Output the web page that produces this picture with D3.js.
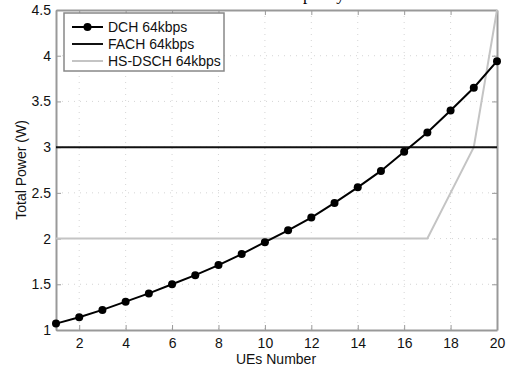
<!DOCTYPE html>
<html>
<head>
<meta charset="utf-8">
<script src="https://cdn.jsdelivr.net/npm/d3@7"></script>
<style>
  body { margin: 0; background: #fff; }
  svg { display: block; }
  text { font-family: "Liberation Sans", Arial, sans-serif; }
</style>
</head>
<body>
<svg id="svg" width="506" height="368"></svg>
<script>
// data
const ues = d3.range(1, 21);
const dch = [1.07, 1.14, 1.22, 1.31, 1.40, 1.50, 1.60, 1.71, 1.83, 1.96,
             2.09, 2.23, 2.39, 2.56, 2.74, 2.95, 3.16, 3.40, 3.65, 3.94];
const fach = ues.map(() => 3);
const hsdsch = [2, 2, 2, 2, 2, 2, 2, 2, 2, 2,
                2, 2, 2, 2, 2, 2, 2, 2.5, 3, 4.5];
const xTicks = [2, 4, 6, 8, 10, 12, 14, 16, 18, 20];
const yTicks = [1, 1.5, 2, 2.5, 3, 3.5, 4, 4.5];
const legendLabels = ['DCH 64kbps', 'FACH 64kbps', 'HS-DSCH 64kbps'];

const svg = d3.select('#svg');
const pLeft = 56, pRight = 497, pTop = 10, pBottom = 330;

const x = d3.scaleLinear().domain([1, 20]).range([pLeft, pRight]);
const y = d3.scaleLinear().domain([1, 4.5]).range([pBottom, pTop]);

// title, cut off by the top edge (only descenders show)
svg.append('text')
    .attr('x', 288)
    .attr('y', 0)
    .style('font-family', '"Liberation Serif", "Times New Roman", serif')
    .style('font-size', '17px')
    .text('capacity');

// dotted grid
const grid = svg.append('g')
    .attr('stroke', '#bbb')
    .attr('stroke-width', 1)
    .attr('stroke-dasharray', '1,5')
    .attr('opacity', 0.6);
grid.selectAll('.gx').data(xTicks.slice(0, -1)).enter().append('line')
    .attr('x1', d => x(d)).attr('x2', d => x(d))
    .attr('y1', pTop).attr('y2', pBottom);
grid.selectAll('.gy').data(yTicks.slice(1, -1)).enter().append('line')
    .attr('x1', pLeft).attr('x2', pRight)
    .attr('y1', d => y(d)).attr('y2', d => y(d));

// axes
const axisColor = '#999';
const xb = svg.append('g').attr('transform', `translate(0,${pBottom})`)
    .call(d3.axisBottom(x).tickValues(xTicks).tickSize(-5).tickPadding(8).tickSizeOuter(0));
const xt = svg.append('g').attr('transform', `translate(0,${pTop})`)
    .call(d3.axisTop(x).tickValues(xTicks).tickSize(-5).tickFormat('').tickSizeOuter(0));
const yl = svg.append('g').attr('transform', `translate(${pLeft},0)`)
    .call(d3.axisLeft(y).tickValues(yTicks).tickSize(-5).tickPadding(5)
        .tickFormat(d3.format('~g')).tickSizeOuter(0));
const yr = svg.append('g').attr('transform', `translate(${pRight},0)`)
    .call(d3.axisRight(y).tickValues(yTicks).tickSize(-5).tickFormat('').tickSizeOuter(0));
[xb, xt, yl, yr].forEach(g => {
    g.selectAll('path').attr('stroke', axisColor).attr('stroke-width', 2);
    g.selectAll('line').attr('stroke', axisColor);
    g.selectAll('text').style('font-size', '14px').attr('fill', '#111')
        .style('font-family', '"Liberation Sans", Arial, sans-serif');
});

// series
const line = d3.line().x((d, i) => x(ues[i])).y(d => y(d));

svg.append('path').datum(hsdsch)
    .attr('d', line).attr('fill', 'none')
    .attr('stroke', '#c4c4c4').attr('stroke-width', 2);

svg.append('path').datum(fach)
    .attr('d', line).attr('fill', 'none')
    .attr('stroke', '#111').attr('stroke-width', 2);

svg.append('path').datum(dch)
    .attr('d', line).attr('fill', 'none')
    .attr('stroke', '#000').attr('stroke-width', 2);

svg.selectAll('.dot').data(dch).enter().append('circle')
    .attr('cx', (d, i) => x(ues[i]))
    .attr('cy', d => y(d))
    .attr('r', 4)
    .attr('fill', '#000');

// axis titles
svg.append('text')
    .attr('x', 276).attr('y', 364)
    .attr('text-anchor', 'middle')
    .style('font-size', '14px').attr('fill', '#111')
    .text('UEs Number');

svg.append('text')
    .attr('transform', 'translate(26,170) rotate(-90)')
    .attr('text-anchor', 'middle')
    .style('font-size', '14px').attr('fill', '#111')
    .text('Total Power (W)');

// legend
const lg = svg.append('g');
lg.append('rect')
    .attr('x', 64).attr('y', 13).attr('width', 160).attr('height', 58)
    .attr('fill', '#fff').attr('stroke', '#888').attr('stroke-width', 1.5);
const legendColors = ['#000', '#111', '#c4c4c4'];
const ly = d3.scalePoint().domain(legendLabels).range([27, 61]);
legendLabels.forEach((lab, i) => {
    lg.append('line')
        .attr('x1', 72).attr('x2', 103)
        .attr('y1', ly(lab)).attr('y2', ly(lab))
        .attr('stroke', legendColors[i]).attr('stroke-width', 2);
    if (i === 0) {
        lg.append('circle').attr('cx', 87.5).attr('cy', ly(lab)).attr('r', 4).attr('fill', '#000');
    }
    lg.append('text')
        .attr('x', 108).attr('y', ly(lab) + 5)
        .style('font-size', '14px').attr('fill', '#111')
        .text(lab);
});
</script>
</body>
</html>
